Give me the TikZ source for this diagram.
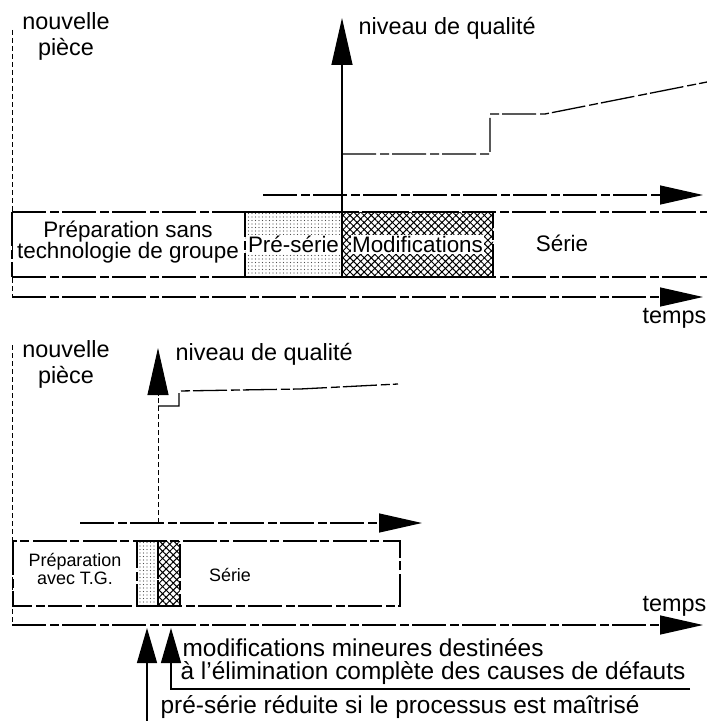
\documentclass[tikz,border=0pt]{standalone}
\usepackage{fontspec}
\setmainfont{Liberation Sans}
\usetikzlibrary{arrows.meta,patterns.meta,positioning}

\begin{document}
\begin{tikzpicture}[x=1bp,y=-1bp]
        \tikzstyle{every path}=[line width=1.3bp]

        \def\fbig{\fontsize{23.5}{26}\selectfont}
        \def\fband{\fontsize{22.5}{21}\selectfont}
        \def\fsmall{\fontsize{18}{19}\selectfont}
        \def\fnote{\fontsize{24.5}{28}\selectfont}
        \tikzstyle{worn}=[dash pattern=on 34bp off 4bp on 9bp off 3bp]
        \tikzstyle{faint}=[dash pattern=on 5bp off 3bp,line width=.9bp]
        \tikzstyle{lbl}=[inner sep=0pt]
        \tikzstyle{box}=[draw,worn,inner sep=0pt,minimum height=65bp]
        \tikzstyle{pre}=[pattern={Dots[distance=3.5bp,radius=.6bp]},pattern color=black!70]
        \tikzstyle{modif}=[pattern={Hatch[angle=45,distance=5bp,line width=1bp]}]
        \tikzstyle{axe}=[-{Triangle[length=43bp,width=19bp]}]
        \tikzstyle{qaxe}=[-{Triangle[length=47bp,width=21bp]}]
        \tikzstyle{pointer}=[-{Triangle[length=35bp,width=20bp]}]

        \useasboundingbox (0,0) rectangle (707,721);

        % sans technologie de groupe
        \draw[faint] (12,30) -- (12,297);
        \node[lbl,align=center,font=\fbig] (np1) at (66,36) {nouvelle\\pièce};
        \node[box,pre,minimum width=97bp] (pre1) at (293.5,244.5) {};
        \node[box,modif,minimum width=151bp] (mod1) at (417.5,244.5) {};
        \draw[worn] (12,212) -- (707,212) (12,277) -- (707,277) (12,212) -- (12,277);
        \node[lbl,align=center,font=\fband] (prep1) at (128,242) {Préparation sans\\technologie de groupe};
        \node[font=\fband,fill=white,inner sep=1bp] (pre1t) at (pre1) {Pré-série};
        \node[font=\fband,fill=white,inner sep=1bp] (mod1t) at (mod1) {Modifications};
        \node[font=\fband] (serie1) at (562,243) {Série};

        \coordinate (q1) at (342,212);
        \coordinate (q1top) at (342,18);
        \draw[qaxe] (q1) -- (q1top);                 % niveau de qualite
        \node[lbl,anchor=west,font=\fbig] (nq1) at (358,28) {niveau de qualité};
        \coordinate (x1a) at (263,195);
        \coordinate (x1b) at (703,195);
        \draw[axe,worn] (x1a) -- (x1b);
        \draw[worn] (342,154) -- (490,154) -- (490,114) -- (545,114) -- (707,82);

        \coordinate (t1a) at (12,297);
        \coordinate (t1b) at (703,297);
        \draw[axe,worn] (t1a) -- (t1b);              % temps
        \node[lbl,anchor=east,font=\fbig] (tps1) at (707,318) {temps};

        % avec T.G.
        \draw[faint] (12,345) -- (12,625);
        \node[lbl,align=center,font=\fbig] (np2) at (66,364) {nouvelle\\pièce};
        \node[box,pre,minimum width=21bp] (pre2) at (147.5,573.5) {};
        \node[box,modif,minimum width=22bp] (mod2) at (169,573.5) {};
        \draw[worn] (13,541) rectangle (400,606);
        \node[align=center,font=\fsmall] (prep2) at (75,569) {Préparation\\avec T.G.};
        \node[font=\fsmall] (serie2) at (230,575) {Série};

        \coordinate (q2) at (158,523);
        \coordinate (q2top) at (158,348);
        \draw[faint,qaxe] (q2) -- (q2top);           % niveau de qualite
        \node[lbl,anchor=west,font=\fbig] (nq2) at (175,354) {niveau de qualité};
        \coordinate (x2a) at (80,523);
        \coordinate (x2b) at (422,523);
        \draw[axe,worn] (x2a) -- (x2b);
        \draw[worn] (158,406) -- (179,406) -- (179,391) -- (300,389) -- (398,384);

        \coordinate (t2a) at (12,625);
        \coordinate (t2b) at (703,625);
        \draw[axe,worn] (t2a) -- (t2b);              % temps
        \node[lbl,anchor=east,font=\fbig] (tps2) at (707,606) {temps};

        % remarques
        \coordinate (p1) at (147,721);
        \coordinate (p1top) at (147,628);
        \coordinate (p2) at (171,689);
        \coordinate (p2top) at (171,628);
        \coordinate (p2end) at (690,689);
        \draw[pointer] (p1) -- (p1top);              % pre-serie
        \draw[pointer] (p2end) -- (p2) -- (p2top);   % modifications
        \node[lbl,anchor=west,font=\fnote] (nt1) at (182,648) {modifications mineures destinées};
        \node[lbl,anchor=west,font=\fnote] (nt2) at (180,673) {à l'élimination complète des causes de défauts};
        \node[lbl,anchor=west,font=\fnote] (nt3) at (160,707) {pré-série réduite si le processus est maîtrisé};
\end{tikzpicture}
\end{document}
